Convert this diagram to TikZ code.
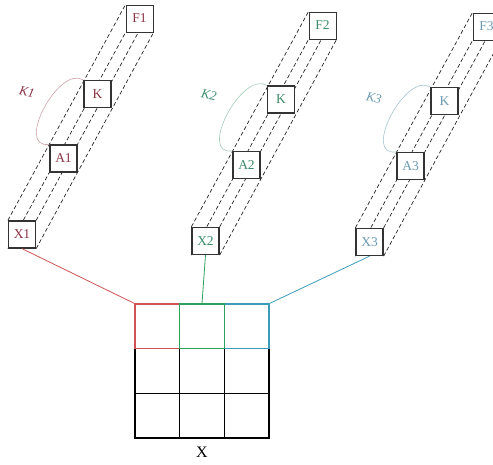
\documentclass[tikz,border=0pt]{standalone}
\usepackage{fontspec}
\setmainfont{Liberation Serif}
\usetikzlibrary{backgrounds}

\definecolor{redtxt}{HTML}{8A3444}
\definecolor{greentxt}{HTML}{3C8C6C}
\definecolor{bluetxt}{HTML}{6C9AB2}
\definecolor{redline}{HTML}{D05454}
\definecolor{greenline}{HTML}{2EA05E}
\definecolor{blueline}{HTML}{3E9CBA}
\definecolor{redarc}{HTML}{CCA4A8}
\definecolor{greenarc}{HTML}{A4CCB8}
\definecolor{bluearc}{HTML}{A4C4D0}

\tikzset{
    box/.style={draw=black!80, line width=1.3pt, fill=white, minimum size=27pt,
        inner sep=0pt, font=\fontsize{13.5}{13.5}\selectfont},
    guide/.style={draw=black!85, line width=0.7pt, dash pattern=on 4pt off 2.5pt},
    loop/.style={line width=0.6pt},
    cell/.style={draw, line width=1.2pt, minimum size=44.7pt, inner sep=0pt},
    klabel/.style={font=\itshape\fontsize{13}{13}\selectfont, rotate=-12}
}

\begin{document}
\begin{tikzpicture}[x=1pt, y=-1pt]
    \useasboundingbox (0,0) rectangle (493,464);

    % First chain
    \node[box, text=redtxt] (X1) at (22,234.5) {X1};
    \node[box, text=redtxt] (A1) at (63.5,158.5) {A1};
    \node[box, text=redtxt] (K1) at (97.5,94) {K};
    \node[box, text=redtxt, line width=1pt] (F1) at (139.5,18.5) {F1};
    \draw[loop, redarc] (K1.north west) .. controls +(-25,-15) and +(-35,5) .. (A1.north west);
    \node[klabel, text=redtxt] (k1lab) at (27,92) {K1};

    % Second chain
    \node[box, text=greentxt] (X2) at (205.5,241) {X2};
    \node[box, text=greentxt] (A2) at (246.5,165) {A2};
    \node[box, text=greentxt] (K2) at (281,99.5) {K};
    \node[box, text=greentxt, line width=1pt] (F2) at (322.5,25.5) {F2};
    \draw[loop, greenarc] (K2.north west) .. controls +(-25,-15) and +(-35,5) .. (A2.north west);
    \node[klabel, text=greentxt] (k2lab) at (209,95) {K2};

    % Third chain
    \node[box, text=bluetxt] (X3) at (369.5,242) {X3};
    \node[box, text=bluetxt] (A3) at (410.5,166) {A3};
    \node[box, text=bluetxt] (K3) at (444.5,101) {K};
    \node[box, text=bluetxt, line width=1pt] (F3) at (486.5,26.5) {F3};
    \draw[loop, bluearc] (K3.north west) .. controls +(-25,-15) and +(-35,5) .. (A3.north west);
    \node[klabel, text=bluetxt] (k3lab) at (374,98) {K3};

    % Dashed guides behind the boxes
    \begin{scope}[on background layer]
        \draw[guide] (X1.north west) -- (F1.north west);
        \draw[guide] (X1.north east) -- (F1.north east);
        \draw[guide] (X1.south west) -- (F1.south west);
        \draw[guide] (X1.south east) -- (F1.south east);
        \draw[guide] (X2.north west) -- (F2.north west);
        \draw[guide] (X2.north east) -- (F2.north east);
        \draw[guide] (X2.south west) -- (F2.south west);
        \draw[guide] (X2.south east) -- (F2.south east);
        \draw[guide] (X3.north west) -- (F3.north west);
        \draw[guide] (X3.north east) -- (F3.north east);
        \draw[guide] (X3.south west) -- (F3.south west);
        \draw[guide] (X3.south east) -- (F3.south east);
    \end{scope}

    % Input grid
    \node[cell] (c21) at (157.4,371) {};
    \node[cell] (c22) at (202,371) {};
    \node[cell] (c23) at (246.6,371) {};
    \node[cell] (c31) at (157.4,415.6) {};
    \node[cell] (c32) at (202,415.6) {};
    \node[cell] (c33) at (246.6,415.6) {};
    \node[cell, draw=redline] (c11) at (157.4,326.4) {};
    \node[cell, draw=blueline] (c13) at (246.6,326.4) {};
    \node[cell, draw=greenline] (c12) at (202,326.4) {};
    \draw[greenline, line width=1.8pt] (c12.north west) -- (c12.north east);
    \node[font=\fontsize{16}{16}\selectfont] (xlab) at (202,452) {X};

    % Links from the chains to the grid
    \draw[redline, line width=0.8pt] (X1.south) -- (c11.north west);
    \draw[greenline, line width=0.8pt] (X2.south) -- (c12.north);
    \draw[blueline, line width=0.8pt] (X3.south) -- (c13.north east);
\end{tikzpicture}
\end{document}
